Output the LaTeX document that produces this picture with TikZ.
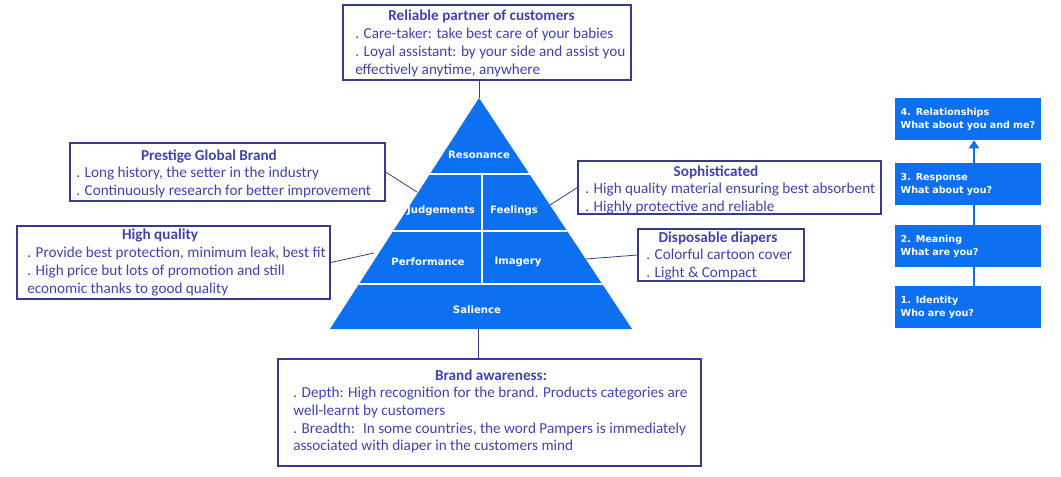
\documentclass[tikz,border=0pt]{standalone}
\usepackage{fontspec}
\setmainfont{Carlito}
\newfontfamily\labelfont{DejaVu Sans}
\usetikzlibrary{arrows.meta}
\usetikzlibrary{backgrounds}

\definecolor{pyrblue}{RGB}{12,112,240}
\definecolor{boxtext}{RGB}{66,66,172}
\definecolor{boxline}{RGB}{58,58,140}

\begin{document}
\begin{tikzpicture}[x=0.75pt,y=-0.75pt]
	 \tikzstyle{box}=[draw=boxline,line width=0.9pt,inner sep=0pt]
	 \tikzstyle{title}=[text=boxtext,inner sep=0pt,font=\fontsize{11.4}{13.3}\selectfont\bfseries]
	 \tikzstyle{item}=[text=boxtext,align=left,anchor=north west,inner sep=0pt,font=\fontsize{11.4}{13.3}\selectfont]
	 \tikzstyle{level}=[text=white,inner sep=0pt,font=\labelfont\fontsize{7.6}{9}\selectfont\bfseries]
	 \tikzstyle{step box}=[fill=pyrblue,text=white,minimum width=109.5pt,minimum height=31.5pt,text width=101pt,align=left,inner xsep=4.25pt,inner ysep=0pt,font=\labelfont\fontsize{7.2}{9.75}\selectfont\bfseries]
	 \tikzstyle{link}=[-,draw=boxline,line width=0.6pt]

	 \useasboundingbox (0,0) rectangle (1061,476);

	 % pyramid
	 \coordinate (apex) at (479,98);
	 \coordinate (base left) at (330,329);
	 \coordinate (base right) at (632,329);
	 \fill[pyrblue] (apex) -- (base left) -- (base right) -- cycle;
	 \begin{scope}
	 \clip (apex) -- (base left) -- (base right) -- cycle;
	 \draw[white,line width=1.5pt] (300,174) -- (660,174);
	 \draw[white,line width=1.5pt] (300,231) -- (660,231);
	 \draw[white,line width=1.5pt] (300,284) -- (660,284);
	 \draw[white,line width=1.5pt] (482,174) -- (482,284);
	 \end{scope}

	 \node[level] (resonance) at (479,155) {Resonance};
	 \node[level] (judgements) at (441,211) {Judgements};
	 \node[level] (feelings) at (514,211) {Feelings};
	 \node[level] (performance) at (428,262) {Performance};
	 \node[level] (imagery) at (518,262) {Imagery};
	 \node[level] (salience) at (477,310) {Salience};

	 \coordinate (p judge) at (417,192);
	 \coordinate (p perf) at (374,253);
	 \coordinate (p feel) at (550,205);
	 \coordinate (p imag) at (586,259);
	 \coordinate (base mid) at (478,329);

	 % text boxes
	 \node[box,minimum width=216pt,minimum height=56.25pt] (reliable) at (487,42.5) {};
	 \node[title] (reliable title) at (481.5,16) {Reliable partner of customers};
	 \node[item] (reliable text) at (355,26) {\strut. Care-taker: take best care of your babies\\. Loyal assistant: by your side and assist you\\effectively anytime, anywhere};

	 \node[box,minimum width=236.25pt,minimum height=43.5pt] (prestige) at (227.5,172) {};
	 \node[title] (prestige title) at (209,156) {Prestige Global Brand};
	 \node[item] (prestige text) at (76,165) {\strut. Long history, the setter in the industry\\. Continuously research for better improvement};

	 \node[box,minimum width=234.75pt,minimum height=54.75pt] (quality) at (173.5,262.5) {};
	 \node[title] (quality title) at (160,235) {High quality};
	 \node[item] (quality text) at (27,245) {\strut. Provide best protection, minimum leak, best fit\\. High price but lots of promotion and still\\economic thanks to good quality};

	 \node[box,minimum width=227.25pt,minimum height=39.75pt] (sophisticated) at (729.5,187.5) {};
	 \node[title] (sophisticated title) at (716,172) {Sophisticated};
	 \node[item] (sophisticated text) at (585,181) {\strut. High quality material ensuring best absorbent\\. Highly protective and reliable};

	 \node[box,minimum width=124.5pt,minimum height=39pt] (disposable) at (721,255) {};
	 \node[title] (disposable title) at (718,238) {Disposable diapers};
	 \node[item] (disposable text) at (646,247) {\strut. Colorful cartoon cover\\. Light \& Compact};

	 \node[box,minimum width=317.25pt,minimum height=80.25pt] (awareness) at (489.5,412.5) {};
	 \node[title] (awareness title) at (491,375) {Brand awareness:};
	 \node[item] (awareness text) at (293,385) {\strut. Depth: High recognition for the brand. Products categories are\\well-learnt by customers\\. Breadth:~ In some countries, the word Pampers is immediately\\associated with diaper in the customers mind};

	 \draw[link] (reliable.south -| apex) -- (apex);
	 \draw[link] (prestige.east) -- (p judge);
	 \draw[link] (quality.east) -- (p perf);
	 \draw[link] (sophisticated.west) -- (p feel);
	 \draw[link] (disposable.west) -- (p imag);
	 \draw[link] (base mid) -- (base mid |- awareness.north);

	 % ladder
	 \node[step box] (relationships) at (968,119) {4. Relationships\\What about you and me?};
	 \node[step box] (response) at (968,184) {3. Response\\What about you?};
	 \node[step box] (meaning) at (968,246) {2. Meaning\\What are you?};
	 \node[step box] (identity) at (968,307) {1. Identity\\Who are you?};
	 \begin{pgfonlayer}{background}
	 \draw[pyrblue,line width=1.5pt,-{Triangle[width=7.5pt,length=6pt]}] ([xshift=4.5pt]identity.north) -- ([xshift=4.5pt]relationships.south);
	 \end{pgfonlayer}
\end{tikzpicture}
\end{document}
